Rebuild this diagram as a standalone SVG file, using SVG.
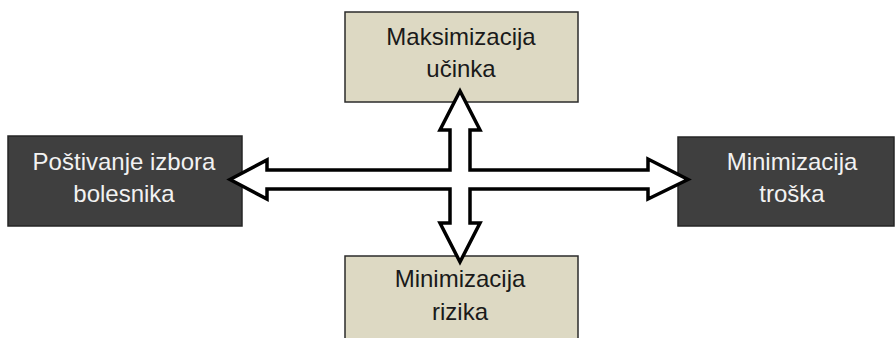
<svg xmlns="http://www.w3.org/2000/svg" width="896" height="338" viewBox="0 0 896 338">
<style>
.light{fill:#ddd9c3;stroke:#2b2b2b;stroke-width:1.5}
.dark{fill:#3f3f3f;stroke:#262626;stroke-width:1.5}
text{font-family:"Liberation Sans",Arial,sans-serif;font-size:24px;text-anchor:middle}
.tl{fill:#1a1a1a}
.td{fill:#f2f2f2}
.arrow{fill:#ffffff;stroke:#000000;stroke-width:3.5;stroke-linejoin:miter}
</style>
<rect width="896" height="338" fill="#ffffff"/>
<g id="node-top">
<rect class="light" x="345" y="12" width="233" height="90"/>
<text class="tl" x="461" y="45">Maksimizacija</text>
<text class="tl" x="461" y="77">učinka</text>
</g>
<g id="node-left">
<rect class="dark" x="8" y="136" width="234" height="90"/>
<text class="td" x="124" y="170">Poštivanje izbora</text>
<text class="td" x="124" y="202">bolesnika</text>
</g>
<g id="node-right">
<rect class="dark" x="678" y="137" width="216" height="89"/>
<text class="td" x="792" y="170">Minimizacija</text>
<text class="td" x="792" y="202">troška</text>
</g>
<g id="node-bottom">
<rect class="light" x="345" y="256" width="233" height="90"/>
<text class="tl" x="460" y="287">Minimizacija</text>
<text class="tl" x="460" y="320">rizika</text>
</g>
<g id="connectors">
<polygon class="arrow" points="460,91 480,130 470,130 470,170 648,170 648,159 688,179.5 648,199 648,189 470,189 470,223 480,223 460,262 440,223 450,223 450,189 267,189 267,199 230,179.5 267,160 267,170 450,170 450,130 440,130"/>
</g>
</svg>
